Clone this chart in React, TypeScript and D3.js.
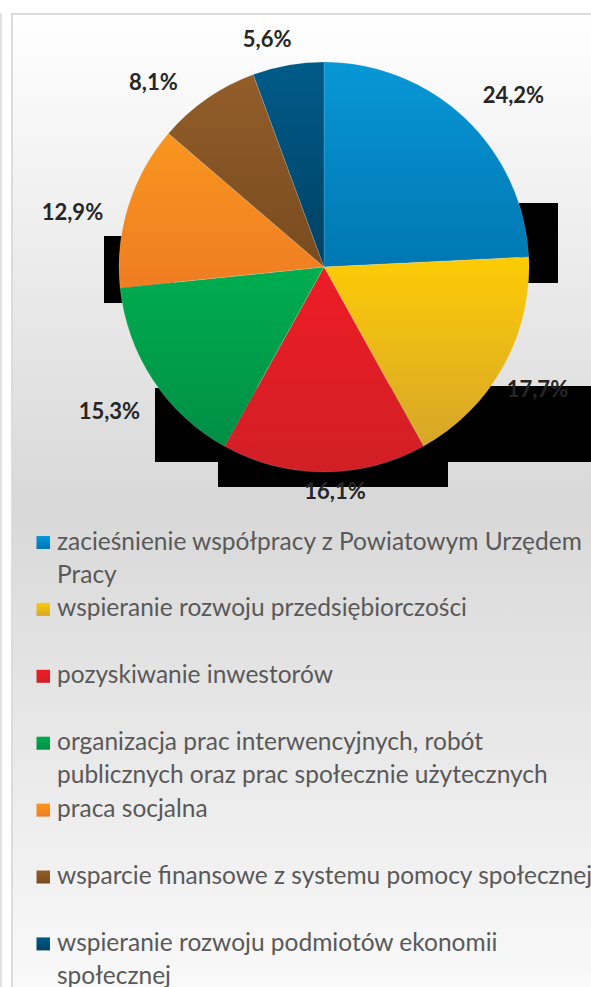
import React from "react";
import * as d3 from "d3";

const categories = [
  "zacieśnienie współpracy z Powiatowym Urzędem\nPracy",
  "wspieranie rozwoju przedsiębiorczości",
  "pozyskiwanie inwestorów",
  "organizacja prac interwencyjnych, robót\npublicznych oraz prac społecznie użytecznych",
  "praca socjalna",
  "wsparcie finansowe z systemu pomocy społecznej",
  "wspieranie rozwoju podmiotów ekonomii\nspołecznej",
];
const values = [24.2, 17.7, 16.1, 15.3, 12.9, 8.1, 5.6];
const valueLabels = ["24,2%", "17,7%", "16,1%", "15,3%", "12,9%", "8,1%", "5,6%"];

// gradient top/bottom colours per slice
const colorsTop = ["#0897d6", "#fdcc05", "#ee1c25", "#00ad4f", "#f8951e", "#935d29", "#005b89"];
const colorsBottom = ["#0077b2", "#d7a62a", "#d11f26", "#008f46", "#ef7d23", "#784b1f", "#004164"];

// label nudges relative to arc centroid (layout only)
const labelNudge: [number, number][] = [
  [17, 9], [-5, 0], [11, -26], [-6, 6], [-13, 20], [-28, 20], [-13, 18],
];

// stray black boxes in the original rendering
const blackBoxes = [
  { x: 519, y: 203, w: 39, h: 80 },
  { x: 104, y: 236, w: 70, h: 67 },
  { x: 155, y: 388, w: 200, h: 74 },
  { x: 330, y: 386, w: 280, h: 76 },
  { x: 218, y: 461, w: 230, h: 26 },
];

const W = 591;
const H = 987;
const cx = 324;
const cy = 267;
const R = 205;
const labelR = 250;

export default function App() {
  const pie = d3.pie<number>().sort(null).value((d) => d)(values);
  const arc = d3.arc<d3.PieArcDatum<number>>().innerRadius(0).outerRadius(R);
  const labelArc = d3
    .arc<d3.PieArcDatum<number>>()
    .innerRadius(labelR)
    .outerRadius(labelR);

  const markerX = 36.5;
  const textX = 57;
  const legendY0 = 549.5;
  const slot = 66.9;
  const lineH = 33;

  return (
    <svg
      width={W}
      height={H}
      style={{ position: "absolute", left: 0, top: 0 }}
      fontFamily="Lato, 'Open Sans', sans-serif"
    >
      <defs>
        <linearGradient id="bg" gradientUnits="userSpaceOnUse" x1="0" y1="13" x2="0" y2="1000">
          <stop offset="0" stopColor="#ffffff" />
          <stop offset="0.5" stopColor="#d8d8d8" />
          <stop offset="1" stopColor="#fafafa" />
        </linearGradient>
        {values.map((_, i) => (
          <linearGradient key={i} id={`g${i}`} x1="0" y1="0" x2="0" y2="1">
            <stop offset="0" stopColor={colorsTop[i]} />
            <stop offset="1" stopColor={colorsBottom[i]} />
          </linearGradient>
        ))}
      </defs>
      <rect x={0} y={0} width={W} height={H} fill="#ffffff" />
      <rect x={0} y={13} width={2} height={H} fill="#e2e2e2" />
      <rect
        x={12}
        y={14}
        width={W + 20}
        height={H + 20}
        fill="url(#bg)"
        stroke="#dcdcdc"
        strokeWidth={2}
      />
      {blackBoxes.map((b, i) => (
        <rect key={i} x={b.x} y={b.y} width={b.w} height={b.h} fill="#000" />
      ))}
      <g transform={`translate(${cx},${cy})`}>
        {pie.map((p, i) => (
          <path
            key={i}
            d={arc(p) as string}
            fill={`url(#g${i})`}
            stroke="rgba(255,255,255,0.25)"
            strokeWidth={0.6}
          />
        ))}
        {pie.map((p, i) => {
          const [x, y] = labelArc.centroid(p);
          return (
            <text
              key={i}
              x={x + labelNudge[i][0]}
              y={y + labelNudge[i][1]}
              dy="0.36em"
              textAnchor="middle"
              fontWeight="bold"
              fontSize={22}
              fill="#262626"
            >
              {valueLabels[i]}
            </text>
          );
        })}
      </g>
      <g>
        {categories.map((c, i) => {
          const y = legendY0 + i * slot;
          const lines = c.split("\n");
          return (
            <g key={i}>
              <rect
                x={markerX}
                y={y - 13.5}
                width={13.5}
                height={13}
                fill={`url(#g${i})`}
              />
              <text x={textX} y={y} fontSize={24.5} fill="#595959">
                {lines.map((l, j) => (
                  <tspan key={j} x={textX} y={y + j * lineH}>
                    {l}
                  </tspan>
                ))}
              </text>
            </g>
          );
        })}
      </g>
    </svg>
  );
}
